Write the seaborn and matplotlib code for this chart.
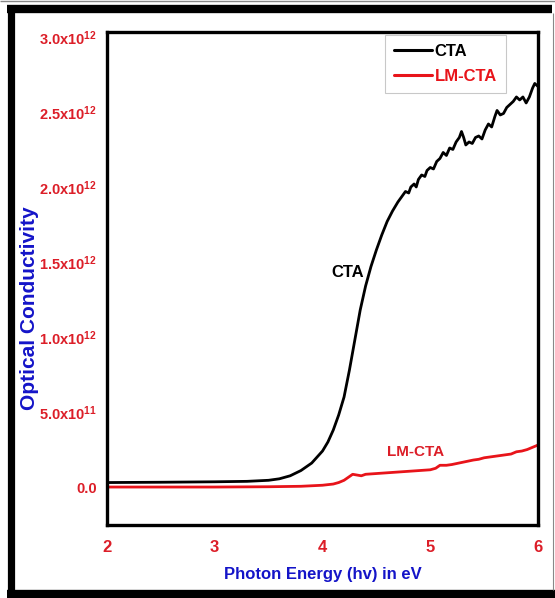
import matplotlib
matplotlib.use("Agg")
import matplotlib.pyplot as plt
from matplotlib import font_manager
from matplotlib.lines import Line2D
from matplotlib.ticker import FixedLocator, FixedFormatter
import numpy as np
import pandas as pd
import seaborn as sns

# Photon energy (eV) and optical conductivity (in units of 1e12)
cta_energy = [2.00, 2.50, 3.00, 3.30, 3.50, 3.60, 3.70, 3.80, 3.90, 4.00, 4.05, 4.10,
              4.15, 4.20, 4.25, 4.30, 4.35, 4.40, 4.45, 4.50, 4.55, 4.60, 4.65, 4.70,
              4.74, 4.77, 4.80, 4.82, 4.85, 4.87, 4.89, 4.92, 4.95, 4.97, 5.00, 5.03,
              5.06, 5.09, 5.12, 5.15, 5.18, 5.21, 5.24, 5.27, 5.29, 5.31, 5.33, 5.36,
              5.39, 5.42, 5.45, 5.48, 5.51, 5.54, 5.57, 5.60, 5.62, 5.65, 5.68, 5.71,
              5.74, 5.77, 5.80, 5.83, 5.86, 5.89, 5.92, 5.95, 5.97, 6.00]
cta_sigma = [0.030, 0.032, 0.035, 0.038, 0.045, 0.055, 0.075, 0.110, 0.160, 0.240, 0.300, 0.380,
             0.480, 0.600, 0.780, 0.980, 1.180, 1.340, 1.470, 1.580, 1.680, 1.770, 1.840, 1.900,
             1.940, 1.970, 1.960, 2.000, 2.020, 2.000, 2.050, 2.080, 2.070, 2.110, 2.130, 2.120,
             2.170, 2.190, 2.230, 2.210, 2.260, 2.250, 2.300, 2.330, 2.370, 2.330, 2.280, 2.300,
             2.290, 2.330, 2.340, 2.320, 2.380, 2.420, 2.400, 2.470, 2.510, 2.480, 2.490, 2.530,
             2.550, 2.570, 2.600, 2.580, 2.600, 2.560, 2.600, 2.660, 2.690, 2.670]

lm_energy = [2.00, 2.50, 3.00, 3.50, 3.80, 4.00, 4.10, 4.15, 4.20, 4.25, 4.28, 4.32,
             4.36, 4.40, 4.50, 4.60, 4.70, 4.80, 4.90, 5.00, 5.05, 5.09, 5.15, 5.20,
             5.30, 5.40, 5.45, 5.50, 5.60, 5.70, 5.75, 5.80, 5.85, 5.90, 5.95, 6.00]
lm_sigma = [0.000, 0.000, 0.000, 0.002, 0.005, 0.012, 0.020, 0.030, 0.045, 0.070, 0.085, 0.080,
            0.075, 0.085, 0.090, 0.095, 0.100, 0.105, 0.110, 0.115, 0.125, 0.145, 0.145, 0.150,
            0.165, 0.180, 0.185, 0.195, 0.205, 0.215, 0.220, 0.235, 0.240, 0.250, 0.265, 0.280]

series_names = ["CTA", "LM-CTA"]
series_colors = ["#000000", "#e8141a"]

y_ticks = [0.0, 0.5, 1.0, 1.5, 2.0, 2.5, 3.0]
y_tick_labels = ["0.0", "5.0x10$^{11}$", "1.0x10$^{12}$", "1.5x10$^{12}$",
                 "2.0x10$^{12}$", "2.5x10$^{12}$", "3.0x10$^{12}$"]
x_ticks = [2, 3, 4, 5, 6]
x_tick_labels = ["2", "3", "4", "5", "6"]

df = pd.concat([
    pd.DataFrame({"energy": cta_energy, "sigma": cta_sigma, "sample": "CTA"}),
    pd.DataFrame({"energy": lm_energy, "sigma": lm_sigma, "sample": "LM-CTA"}),
], ignore_index=True)

sns.set_theme(style="white")
installed = {f.name for f in font_manager.fontManager.ttflist}
family = "Liberation Sans Narrow" if "Liberation Sans Narrow" in installed else "Liberation Sans"
plt.rcParams["font.family"] = [family, "DejaVu Sans"]
plt.rcParams["font.weight"] = "bold"
plt.rcParams["mathtext.fontset"] = "custom"
plt.rcParams["mathtext.rm"] = f"{family}:bold"
plt.rcParams["mathtext.it"] = f"{family}:bold"
plt.rcParams["mathtext.bf"] = f"{family}:bold"
plt.rcParams["mathtext.default"] = "rm"

RED = "#dc1e28"
BLUE = "#1414c8"

W, H = 555, 598
fig = plt.figure(figsize=(W / 100, H / 100), dpi=100)
ax = fig.add_axes([107 / W, 1 - 525 / H, (538 - 107) / W, (525 - 32) / H])

sns.lineplot(data=df, x="energy", y="sigma", hue="sample", hue_order=series_names,
             palette=series_colors, linewidth=2.0, ax=ax, legend=False, sort=False)

ax.set_xlim(2, 6)
ax.set_ylim(-0.253, 3.033)

ax.xaxis.set_major_locator(FixedLocator(x_ticks))
ax.xaxis.set_major_formatter(FixedFormatter(x_tick_labels))
ax.yaxis.set_major_locator(FixedLocator(y_ticks))
ax.yaxis.set_major_formatter(FixedFormatter(y_tick_labels))
ax.tick_params(axis="both", length=0, colors=RED)
ax.tick_params(axis="x", pad=11, labelsize=12)
ax.tick_params(axis="y", pad=7, labelsize=10.5)
for lab in ax.get_xticklabels() + ax.get_yticklabels():
    lab.set_fontweight("bold")
    lab.set_color(RED)

for sp in ax.spines.values():
    sp.set_visible(True)
    sp.set_color("black")
    sp.set_linewidth(2.4)

ax.set_xlabel("Photon Energy (hv) in eV", color=BLUE, fontsize=12, fontweight="bold")
ax.set_ylabel("Optical Conductivity", color=BLUE, fontsize=15, fontweight="bold")
ax.xaxis.set_label_coords(0.5, -0.085)
ax.yaxis.set_label_coords(-0.158, 0.44)

ax.text(4.23, 1.43, "CTA", color="black", fontsize=12, fontweight="bold", ha="center", va="center")
ax.text(4.86, 0.233, "LM-CTA", color=RED, fontsize=11, fontweight="bold", ha="center", va="center")

handles = [Line2D([], [], color=c, linewidth=2.2) for c in series_colors]
leg = ax.legend(handles, series_names, loc="upper right", bbox_to_anchor=(0.926, 0.994),
                frameon=True, fancybox=False, fontsize=12, handlelength=2.3,
                handletextpad=0.15, borderpad=0.55, labelspacing=0.6, borderaxespad=0)
leg.get_frame().set_edgecolor("#bbbbbb")
leg.get_frame().set_linewidth(0.8)
for txt, c in zip(leg.get_texts(), series_colors):
    txt.set_color(c)
    txt.set_fontweight("bold")

# Picture frame around the whole figure
def px_line(xs, ys, lw, color):
    fig.add_artist(Line2D([x / W for x in xs], [1 - y / H for y in ys],
                          transform=fig.transFigure, color=color, linewidth=lw,
                          solid_capstyle="butt"))

px_line([0, W], [1, 1], 1.0, "#888888")
px_line([10.5, 10.5], [5, H], 5.2, "black")
px_line([7, 552], [9, 9], 6.0, "black")
px_line([7, W], [594, 594], 6.0, "black")
px_line([553, 553], [13, 590], 0.8, "#888888")

fig.savefig("out.png", dpi=100)
